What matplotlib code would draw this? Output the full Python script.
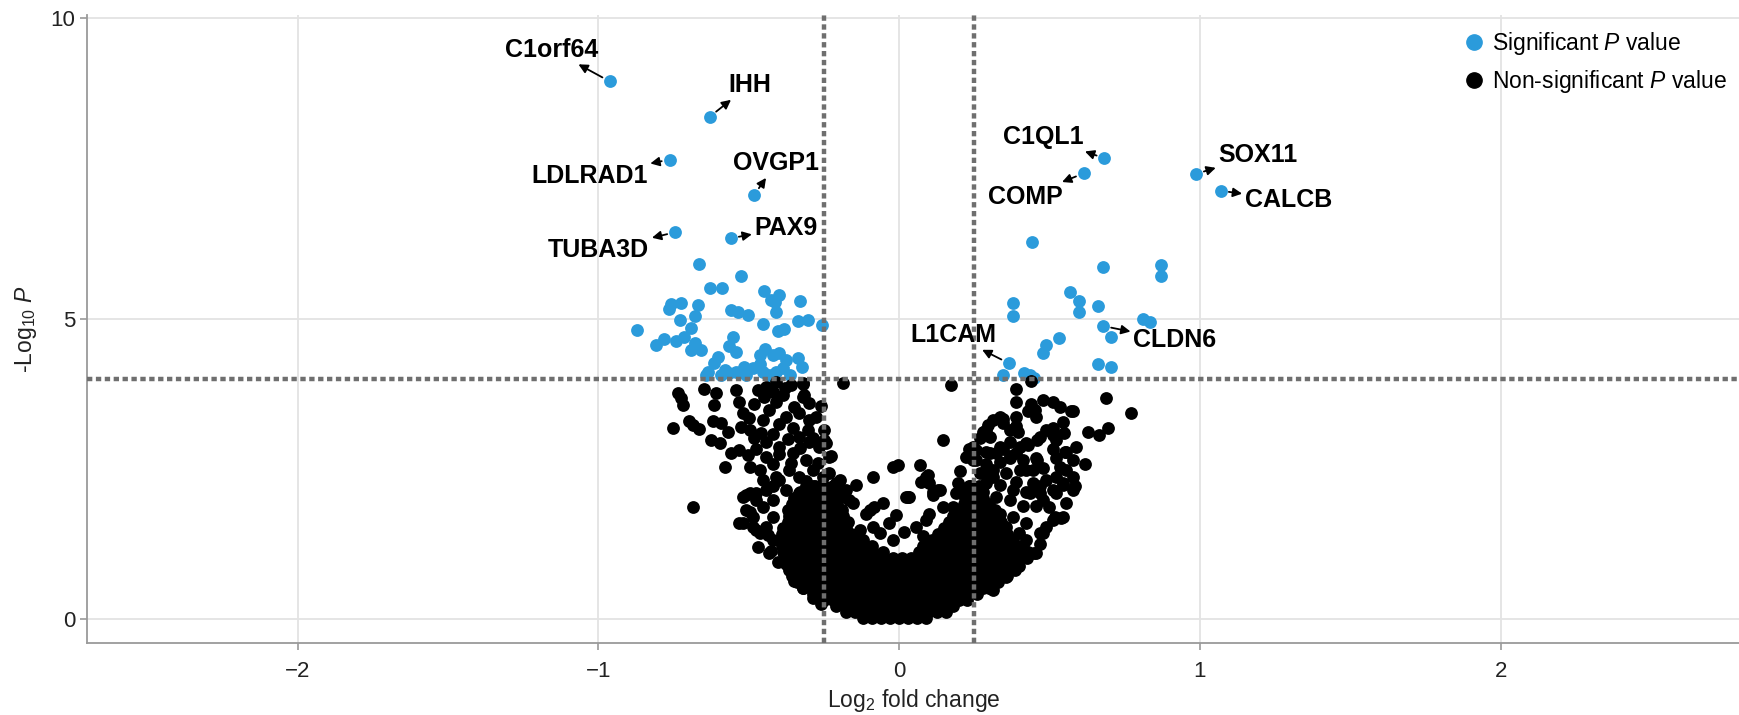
import numpy as np
import matplotlib
matplotlib.use('Agg')
import matplotlib.pyplot as plt
from matplotlib.lines import Line2D

plt.rcParams['font.family'] = ['Liberation Sans', 'DejaVu Sans']
plt.rcParams['mathtext.fontset'] = 'custom'
plt.rcParams['mathtext.rm'] = 'Liberation Sans'
plt.rcParams['mathtext.it'] = 'Liberation Sans:italic'
plt.rcParams['mathtext.default'] = 'regular'

# cut-offs used for the dotted lines
fc_cut = 0.25
p_cut = 4.0

# labelled genes: point (log2 fc, -log10 p) and where the label sits
genes = ['C1orf64', 'IHH', 'LDLRAD1', 'OVGP1', 'TUBA3D', 'PAX9',
         'C1QL1', 'COMP', 'SOX11', 'CALCB', 'L1CAM', 'CLDN6']
gene_fc = [-0.962, -0.630, -0.762, -0.482, -0.744, -0.560,
           0.683, 0.614, 0.987, 1.069, 0.365, 0.678]
gene_p = [8.95, 8.36, 7.65, 7.06, 6.44, 6.34,
          7.67, 7.42, 7.41, 7.13, 4.26, 4.88]
label_fc = [-1.156, -0.497, -1.030, -0.408, -0.999, -0.375,
            0.478, 0.419, 1.194, 1.295, 0.179, 0.917]
label_p = [9.48, 8.89, 7.38, 7.59, 6.14, 6.51,
           8.03, 7.03, 7.73, 6.98, 4.73, 4.64]

# other significant genes
sig_points = [
    (-0.664, 5.92), (-0.525, 5.71), (-0.627, 5.51), (-0.588, 5.51), (-0.450, 5.46),
    (-0.398, 5.40), (-0.425, 5.31), (-0.414, 5.28), (-0.331, 5.30), (-0.758, 5.24),
    (-0.725, 5.27), (-0.766, 5.17), (-0.669, 5.23), (-0.677, 5.05), (-0.730, 4.98),
    (-0.558, 5.15), (-0.536, 5.12), (-0.503, 5.06), (-0.409, 5.12), (-0.453, 4.92),
    (-0.337, 4.97), (-0.303, 4.98), (-0.256, 4.90), (-0.872, 4.81), (-0.691, 4.84),
    (-0.714, 4.70), (-0.780, 4.66), (-0.808, 4.56), (-0.743, 4.63), (-0.680, 4.59),
    (-0.691, 4.48), (-0.658, 4.48), (-0.553, 4.69), (-0.564, 4.54), (-0.542, 4.44),
    (-0.603, 4.37), (-0.403, 4.79), (-0.381, 4.83), (-0.447, 4.49), (-0.464, 4.40),
    (-0.420, 4.40), (-0.398, 4.43), (-0.375, 4.31), (-0.337, 4.34), (-0.322, 4.19),
    (-0.614, 4.26), (-0.636, 4.12), (-0.641, 4.06), (-0.580, 4.15), (-0.564, 4.09),
    (-0.542, 4.12), (-0.514, 4.20), (-0.486, 4.18), (-0.464, 4.25), (-0.453, 4.12),
    (-0.431, 4.06), (-0.409, 4.12), (-0.387, 4.18), (-0.364, 4.06), (-0.508, 4.06),
    (-0.592, 4.06),
    (0.443, 6.27), (0.677, 5.87), (0.871, 5.90), (0.871, 5.72), (0.570, 5.45),
    (0.598, 5.30), (0.598, 5.12), (0.378, 5.27), (0.378, 5.05), (0.660, 5.21),
    (0.810, 5.00), (0.834, 4.94), (0.706, 4.70), (0.531, 4.68), (0.490, 4.56),
    (0.478, 4.43), (0.661, 4.25), (0.704, 4.19), (0.345, 4.06), (0.417, 4.09),
    (0.434, 4.06), (0.447, 4.01),
]

# non-significant genes, the sparse ones
ns_points = [
    # left arm
    (-0.736, 3.77), (-0.725, 3.68), (-0.719, 3.57), (-0.752, 3.19), (-0.697, 3.30),
    (-0.686, 3.23), (-0.666, 3.16), (-0.647, 3.84), (-0.608, 3.76), (-0.614, 3.57),
    (-0.619, 3.30), (-0.591, 3.26), (-0.625, 2.98), (-0.597, 2.93), (-0.569, 3.12),
    (-0.580, 2.54), (-0.558, 2.76), (-0.531, 2.81), (-0.542, 3.82), (-0.531, 3.62),
    (-0.520, 3.43), (-0.525, 3.20), (-0.497, 3.15), (-0.481, 3.59), (-0.470, 3.82),
    (-0.442, 3.87), (-0.420, 3.79), (-0.497, 2.54), (-0.503, 2.73), (-0.475, 2.84),
    (-0.481, 3.01), (-0.453, 3.32), (-0.431, 3.48), (-0.409, 3.62), (-0.387, 3.73),
    (-0.359, 3.90), (-0.320, 3.93), (-0.348, 3.54), (-0.376, 3.37), (-0.332, 3.43),
    (-0.298, 3.32), (-0.276, 3.37), (-0.420, 3.09), (-0.398, 2.87), (-0.442, 2.95),
    (-0.442, 2.70), (-0.420, 2.59), (-0.464, 2.48), (-0.475, 2.10), (-0.497, 2.10),
    (-0.353, 3.18), (-0.332, 3.04), (-0.304, 3.15), (-0.287, 3.01), (-0.265, 2.87),
    (-0.248, 2.98), (-0.232, 2.70), (-0.353, 2.76), (-0.309, 2.65), (-0.365, 2.48),
    (-0.332, 2.37), (-0.287, 2.48), (-0.254, 2.37), (-0.232, 2.43), (-0.398, 2.32),
    (-0.420, 2.21), (-0.376, 2.15), (-0.332, 2.10), (-0.287, 2.21), (-0.243, 2.15),
    (-0.210, 2.26), (-0.221, 2.04), (-0.450, 3.70), (-0.500, 3.35), (-0.460, 3.10),
    (-0.400, 3.25), (-0.370, 3.00), (-0.330, 2.85), (-0.300, 2.95), (-0.270, 2.60),
    (-0.400, 2.75), (-0.360, 2.60), (-0.300, 3.60), (-0.380, 3.85), (-0.410, 3.95),
    (-0.320, 3.70), (-0.260, 3.55), (-0.310, 2.30), (-0.226, 2.71), (-0.242, 2.93),
    (-0.248, 3.15), (-0.315, 3.73), (-0.320, 3.92),
    (-0.519, 2.04), (-0.475, 1.99), (-0.508, 1.82), (-0.486, 1.71), (-0.519, 1.60),
    (-0.486, 1.54), (-0.442, 1.54), (-0.420, 1.71), (-0.453, 1.87), (-0.420, 1.99),
    (-0.442, 2.15), (-0.409, 2.37), (-0.453, 2.32), (-0.470, 1.21), (-0.431, 1.10),
    (-0.420, 1.32), (-0.464, 1.43), (-0.531, 1.60), (-0.684, 1.86), (-0.508, 2.07),
    (-0.497, 1.79), (-0.475, 1.49), (-0.436, 1.40), (-0.425, 1.13), (-0.403, 0.96),
    (-0.348, 0.63), (-0.320, 0.52), (-0.287, 0.35), (-0.259, 0.26),
    # middle
    (-0.187, 3.93), (-0.142, 2.24), (-0.087, 2.37), (-0.021, 2.54), (-0.004, 2.57),
    (0.068, 2.57), (0.024, 2.04), (-0.054, 1.93), (-0.098, 1.82), (-0.109, 1.76),
    (-0.009, 1.74), (-0.032, 1.60), (0.018, 1.46), (0.090, 2.37), (0.101, 2.26),
    (0.113, 2.12), (0.135, 2.15), (0.146, 1.87), (0.101, 1.76), (0.090, 1.65),
    (0.057, 1.54), (0.079, 1.38), (-0.020, 1.32), (-0.065, 1.43), (-0.087, 1.54),
    (-0.131, 1.49), (0.179, 1.87), (0.201, 1.71), (-0.198, 2.32), (-0.176, 2.15),
    (-0.165, 1.99), (0.146, 2.98), (-0.082, 1.87), (-0.153, 1.93), (0.033, 2.04),
    (0.074, 2.29), (0.096, 2.40), (0.174, 3.90), (0.085, 2.32), (0.129, 2.15),
    (0.112, 2.07), (0.029, 2.04),
    # right arm
    (0.390, 3.84), (0.440, 3.97), (0.390, 3.62), (0.440, 3.59), (0.451, 3.48),
    (0.429, 3.46), (0.390, 3.37), (0.456, 3.37), (0.479, 3.65), (0.512, 3.62),
    (0.534, 3.54), (0.573, 3.46), (0.689, 3.68), (0.772, 3.43), (0.694, 3.18),
    (0.666, 3.07), (0.628, 3.11), (0.545, 3.29), (0.512, 3.18), (0.550, 3.10),
    (0.512, 3.07), (0.467, 3.04), (0.589, 2.87), (0.617, 2.59), (0.579, 2.65),
    (0.551, 2.79), (0.512, 2.84), (0.523, 2.68), (0.556, 2.48), (0.523, 2.37),
    (0.579, 2.37), (0.584, 2.21), (0.545, 2.24), (0.334, 3.37), (0.312, 3.32),
    (0.345, 3.26), (0.296, 3.24), (0.279, 3.12), (0.301, 3.04), (0.268, 3.01),
    (0.368, 3.15), (0.396, 3.12), (0.368, 2.95), (0.401, 2.87), (0.429, 2.90),
    (0.390, 2.76), (0.345, 2.84), (0.323, 2.76), (0.290, 2.79), (0.257, 2.81),
    (0.234, 2.84), (0.223, 2.70), (0.246, 2.65), (0.290, 2.59), (0.334, 2.62),
    (0.368, 2.68), (0.412, 2.65), (0.456, 2.68), (0.479, 2.51), (0.445, 2.48),
    (0.401, 2.48), (0.357, 2.43), (0.312, 2.37), (0.279, 2.43), (0.290, 2.26),
    (0.334, 2.23), (0.390, 2.29), (0.445, 2.26), (0.489, 2.32), (0.512, 2.15),
    (0.467, 2.10), (0.423, 2.12), (0.201, 2.46), (0.196, 2.26), (0.223, 2.15),
    (0.578, 3.46), (0.556, 1.93), (0.545, 1.71), (0.517, 1.71), (0.500, 1.87),
    (0.479, 1.99), (0.523, 2.10), (0.545, 2.26), (0.534, 2.54), (0.556, 2.79),
    (0.523, 2.98), (0.490, 3.15), (0.457, 2.98), (0.423, 2.93), (0.390, 3.21),
    (0.345, 3.34), (0.290, 3.15), (0.246, 2.87), (0.229, 2.71), (0.257, 2.65),
    (0.301, 2.76), (0.334, 2.87), (0.368, 2.71), (0.457, 2.65), (0.423, 2.48),
    (0.312, 2.48), (0.268, 2.43), (0.379, 2.15), (0.434, 2.10), (0.467, 2.21),
    (0.456, 1.88), (0.412, 1.88), (0.368, 1.99), (0.323, 2.04), (0.268, 2.10),
    (0.234, 2.21), (0.190, 2.10), (0.223, 1.99), (0.290, 1.88), (0.334, 1.76),
    (0.379, 1.71), (0.423, 1.60), (0.467, 1.43), (0.490, 1.54), (0.449, 1.10),
    (0.412, 1.21), (0.467, 1.26), (0.400, 1.43), (0.357, 1.54), (0.456, 1.10),
    (0.478, 1.43), (0.512, 1.65), (0.540, 1.68), (0.578, 2.15), (0.423, 1.32),
    (0.379, 0.88), (0.400, 0.88), (0.357, 0.71), (0.312, 0.49),
]

# non-significant genes in the packed base of the cloud, row by row (-log10 p, log2 fc)
core_rows = [
    (0.02, [-0.12, -0.09, -0.06, -0.03, 0.00, 0.03, 0.06, 0.09]),
    (0.12, [-0.175, -0.145, -0.115, -0.085, -0.055, -0.025, 0.005, 0.035, 0.065, 0.095,
            0.125, 0.155]),
    (0.22, [-0.21, -0.18, -0.15, -0.12, -0.09, -0.06, -0.03, 0.00, 0.03, 0.06, 0.09, 0.12,
            0.15, 0.18]),
    (0.32, [-0.25, -0.22, -0.19, -0.16, -0.13, -0.10, -0.07, -0.04, -0.01, 0.02, 0.05,
            0.08, 0.11, 0.14, 0.17, 0.20, 0.225]),
    (0.42, [-0.285, -0.255, -0.225, -0.195, -0.165, -0.135, -0.105, -0.075, -0.045,
            -0.015, 0.015, 0.045, 0.075, 0.105, 0.135, 0.165, 0.195, 0.225, 0.26]),
    (0.52, [-0.32, -0.29, -0.26, -0.23, -0.20, -0.17, -0.14, -0.11, -0.08, -0.05, -0.02,
            0.01, 0.04, 0.07, 0.10, 0.13, 0.16, 0.19, 0.22, 0.25, 0.28, 0.30]),
    (0.62, [-0.34, -0.31, -0.28, -0.25, -0.22, -0.19, -0.16, -0.13, -0.10, -0.07, -0.04,
            -0.01, 0.02, 0.05, 0.08, 0.11, 0.14, 0.17, 0.20, 0.23, 0.26, 0.29, 0.33]),
    (0.72, [-0.355, -0.325, -0.295, -0.265, -0.235, -0.205, -0.175, -0.145, -0.115,
            -0.085, -0.055, -0.025, 0.005, 0.035, 0.065, 0.095, 0.125, 0.155, 0.185,
            0.215, 0.245, 0.275, 0.305, 0.335, 0.36]),
    (0.82, [-0.365, -0.335, -0.305, -0.275, -0.245, -0.215, -0.185, -0.155, -0.125,
            -0.095, -0.065, -0.035, -0.005, 0.025, 0.055, 0.085, 0.115, 0.145, 0.175,
            0.205, 0.235, 0.265, 0.295, 0.325, 0.355, 0.385]),
    (0.92, [-0.375, -0.345, -0.315, -0.285, -0.255, -0.225, -0.195, -0.165, -0.135,
            -0.105, -0.075, -0.045, -0.015, 0.015, 0.045, 0.075, 0.105, 0.135, 0.165,
            0.195, 0.225, 0.255, 0.285, 0.315, 0.345, 0.375, 0.395]),
    (1.02, [-0.38, -0.35, -0.32, -0.29, -0.26, -0.23, -0.20, -0.17, -0.14, -0.11, -0.08,
            -0.05, -0.02, 0.01, 0.04, 0.07, 0.10, 0.13, 0.16, 0.19, 0.22, 0.25, 0.28,
            0.31, 0.34, 0.37, 0.40, 0.425]),
    (1.12, [-0.385, -0.355, -0.325, -0.295, -0.265, -0.235, -0.205, -0.175, -0.145,
            -0.115, -0.085, -0.055, 0.065, 0.095, 0.125, 0.155, 0.185, 0.215, 0.245,
            0.275, 0.305, 0.335, 0.365, 0.395, 0.43]),
    (1.22, [-0.39, -0.36, -0.33, -0.30, -0.27, -0.24, -0.21, -0.18, -0.15, -0.12, -0.09,
            0.08, 0.11, 0.14, 0.17, 0.20, 0.23, 0.26, 0.29, 0.32, 0.35, 0.38, 0.41]),
    (1.32, [-0.39, -0.36, -0.33, -0.30, -0.27, -0.24, -0.21, -0.18, -0.15, -0.12,
            0.11, 0.14, 0.17, 0.20, 0.23, 0.26, 0.29, 0.32, 0.35, 0.38]),
    (1.42, [-0.39, -0.36, -0.33, -0.30, -0.27, -0.24, -0.21, -0.18, -0.16,
            0.13, 0.16, 0.19, 0.22, 0.25, 0.28, 0.31, 0.34, 0.36]),
    (1.52, [-0.385, -0.355, -0.325, -0.295, -0.265, -0.235, -0.205, -0.175,
            0.15, 0.18, 0.21, 0.24, 0.27, 0.30, 0.33, 0.35]),
    (1.62, [-0.37, -0.34, -0.31, -0.28, -0.25, -0.22, -0.19, -0.17,
            0.165, 0.195, 0.225, 0.255, 0.285, 0.315, 0.34]),
    (1.72, [-0.365, -0.335, -0.305, -0.275, -0.245, -0.215, -0.185,
            0.18, 0.21, 0.24, 0.27, 0.30, 0.33]),
    (1.82, [-0.37, -0.34, -0.31, -0.28, -0.25, -0.22, -0.19,
            0.20, 0.23, 0.26, 0.29, 0.32]),
    (1.92, [-0.355, -0.325, -0.295, -0.265, -0.235, -0.205,
            0.215, 0.245, 0.275, 0.30]),
    (2.02, [-0.35, -0.32, -0.29, -0.26, -0.23, -0.20, 0.22, 0.25, 0.28]),
    (2.12, [-0.33, -0.30, -0.27, -0.24, -0.21, 0.225, 0.255, 0.28]),
    (2.22, [-0.31, -0.28, -0.25, -0.22, 0.235, 0.265]),
]

blue = '#2B9BDB'

sig = np.array(sig_points)
sig_x = np.concatenate([sig[:, 0], gene_fc])
sig_y = np.concatenate([sig[:, 1], gene_p])

ns = np.array(ns_points)
core_x = [x for y, xs in core_rows for x in xs]
core_y = [y for y, xs in core_rows for x in xs]
ns_x = np.concatenate([core_x, ns[:, 0]])
ns_y = np.concatenate([core_y, ns[:, 1]])

fig = plt.figure(figsize=(17.4, 7.15), dpi=100)
ax = fig.add_axes([0.05, 0.1011, 0.95, 0.8775])

ax.scatter(sig_x, sig_y, s=85, color=blue, linewidths=0, zorder=2)
ax.scatter(ns_x, ns_y, s=85, color='black', linewidths=0, zorder=2.5)

# cut-off lines
dots = dict(color='#6f6f6f', lw=3.2, linestyle=(0, (1.2, 0.8)), zorder=3)
ax.axvline(-fc_cut, **dots)
ax.axvline(fc_cut, **dots)
ax.axhline(p_cut, **dots)

# gene labels with arrows
for name, px, py, tx, ty in zip(genes, gene_fc, gene_p, label_fc, label_p):
    ax.annotate(name, xy=(px, py), xytext=(tx, ty), ha='center', va='center',
                fontsize=18, fontweight='bold', zorder=4,
                arrowprops=dict(arrowstyle='<|-,head_length=0.3,head_width=0.15',
                                color='black', lw=1.3, shrinkA=0, shrinkB=6))

ax.set_xlim(-2.70, 2.796)
ax.set_ylim(-0.39, 10.05)
ax.set_xticks([-2, -1, 0, 1, 2])
ax.set_yticks([0, 5, 10])
ax.grid(True, color='#e3e3e3', lw=1.3)
ax.set_axisbelow(True)
for side in ['top', 'right']:
    ax.spines[side].set_visible(False)
for side in ['left', 'bottom']:
    ax.spines[side].set_color('#9a9a9a')
    ax.spines[side].set_linewidth(1.3)
ax.tick_params(length=5, width=1.2, color='#9a9a9a', labelsize=16, labelcolor='#222222')
ax.tick_params(axis='x', pad=8)

ax.set_xlabel('Log$_{2}$ fold change', fontsize=16.5, color='#222222', labelpad=4)
ax.set_ylabel('-Log$_{10}$ $\\mathit{P}$', fontsize=16.5, color='#222222', labelpad=8)

handles = [
    Line2D([], [], marker='o', ls='none', color=blue, ms=11,
           label='Significant $\\mathit{P}$ value'),
    Line2D([], [], marker='o', ls='none', color='black', ms=11,
           label='Non-significant $\\mathit{P}$ value'),
]
fig.legend(handles=handles, loc='upper left', bbox_to_anchor=(1465 / 1740, 1 - 30 / 715),
           frameon=False, fontsize=16.5, handlelength=0.8, handletextpad=0.4,
           borderpad=0, borderaxespad=0, labelspacing=0.5)

fig.savefig('out.png', dpi=100)
